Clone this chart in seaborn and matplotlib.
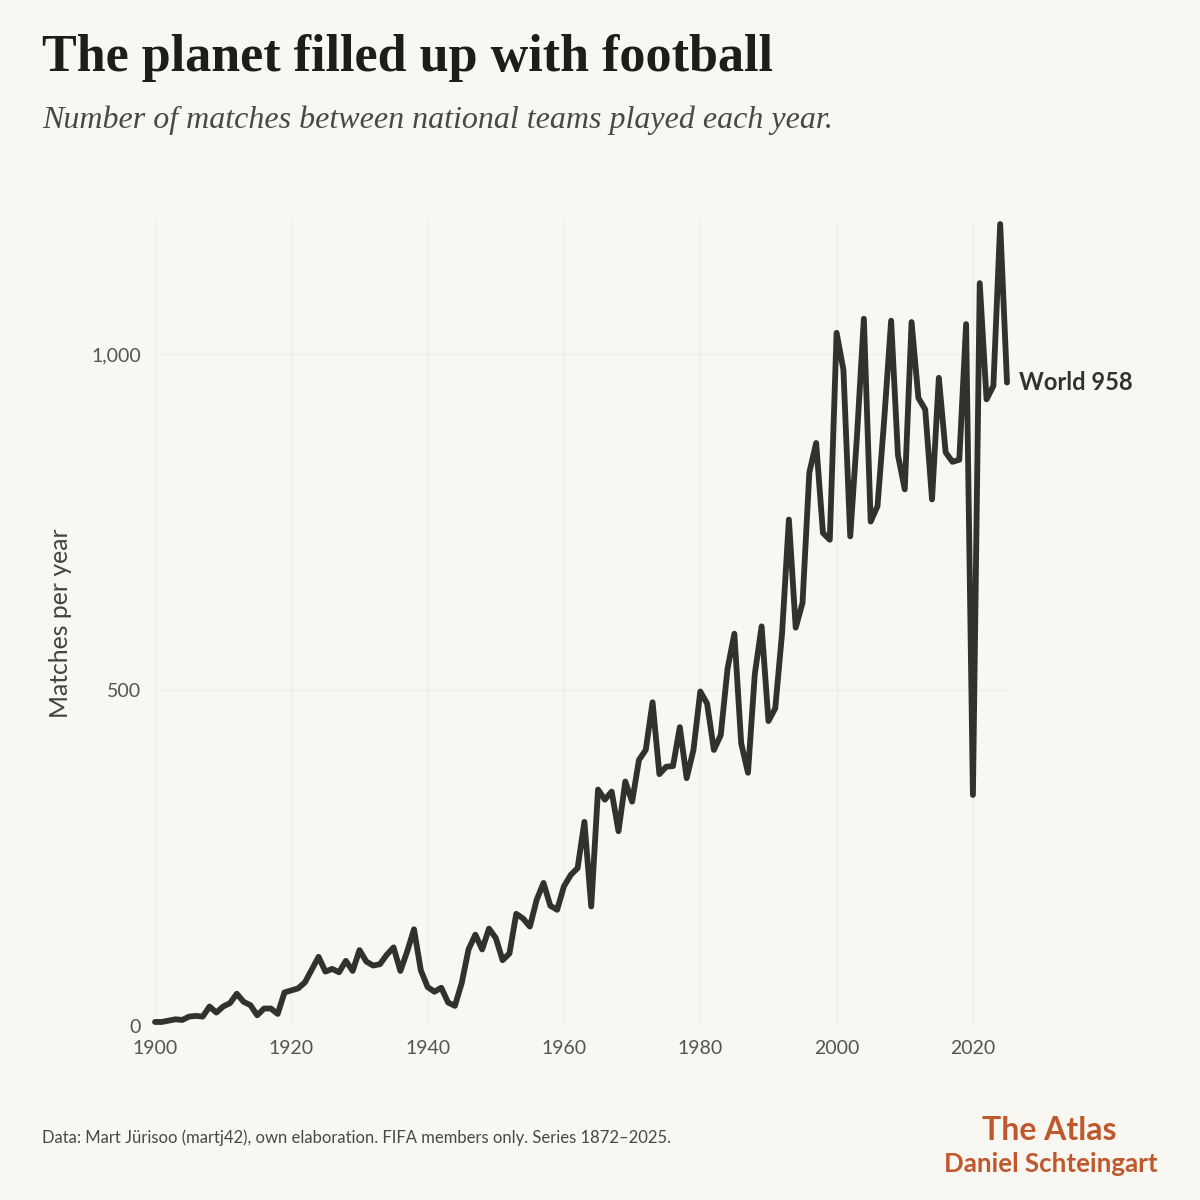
import pandas as pd
import seaborn as sns
import matplotlib.pyplot as plt

# Matches between national teams per year
years = list(range(1900, 2026))
matches = [
    6, 6, 8, 10, 9, 14, 15, 14, 29, 20,          # 1900s
    29, 34, 48, 36, 31, 16, 26, 26, 18, 50,      # 1910s
    53, 56, 65, 84, 103, 81, 85, 80, 97, 82,     # 1920s
    113, 96, 90, 92, 106, 117, 82, 111, 144, 83,  # 1930s
    58, 51, 57, 35, 30, 64, 114, 136, 114, 145,  # 1940s
    131, 98, 108, 167, 160, 148, 188, 213, 179, 173,  # 1950s
    208, 225, 235, 304, 178, 352, 337, 349, 290, 364,  # 1960s
    334, 396, 411, 482, 375, 386, 387, 445, 369, 411,  # 1970s
    498, 480, 411, 433, 532, 584, 421, 377, 524, 595,  # 1980s
    454, 473, 585, 754, 593, 630, 824, 868, 734, 724,  # 1990s
    1032, 977, 729, 880, 1053, 751, 774, 905, 1050, 850,  # 2000s
    799, 1048, 935, 918, 784, 965, 854, 840, 843, 1045,  # 2010s
    344, 1106, 933, 953, 1194, 958,              # 2020s
]
y_ticks = [0, 500, 1000]
y_tick_labels = ["0", "500", "1,000"]
x_ticks = [1900, 1920, 1940, 1960, 1980, 2000, 2020]

BG = "#F9F7F2"
INK = "#33312B"
BRAND = "#C0582E"

data = pd.DataFrame({"year": years, "matches": matches})

sns.set_theme(style="white")
plt.rcParams["font.family"] = ["Lato", "DejaVu Sans"]

fig = plt.figure(figsize=(12, 12), dpi=100)
fig.patch.set_facecolor(BG)
ax = fig.add_axes([155 / 1200, 1 - 1026 / 1200, 852 / 1200, 806 / 1200])
ax.set_facecolor(BG)

sns.lineplot(x="year", y="matches", data=data, ax=ax, color=INK,
             linewidth=4.2, solid_capstyle="round", solid_joinstyle="round",
             clip_on=False, zorder=3)

ax.set_xlim(1900, 2025)
ax.set_ylim(0, 1200)
ax.set_xticks(x_ticks)
ax.set_xticklabels([str(x) for x in x_ticks])
ax.set_yticks(y_ticks)
ax.set_yticklabels(y_tick_labels)
ax.tick_params(axis="both", length=0, labelsize=14, labelcolor="#555350")
ax.tick_params(axis="y", pad=10)
ax.tick_params(axis="x", pad=10)
ax.grid(True, color="#F0EDE6", linewidth=1)
for s in ax.spines.values():
    s.set_visible(False)
ax.set_xlabel("")
ax.set_ylabel("Matches per year", fontsize=17.8, color="#444240",
              labelpad=14)

# end label
ax.annotate(f"World {matches[-1]}", xy=(years[-1], matches[-1]),
            xytext=(9, 0), textcoords="offset points", va="center",
            ha="left", fontsize=17, fontweight="bold", color=INK,
            annotation_clip=False)

fig.text(42 / 1200, 1 - 58 / 1200, "The planet filled up with football",
         fontsize=37.5, fontweight="bold", color="#1E1D1B",
         family=["Liberation Serif", "DejaVu Serif"], va="center")
fig.text(42 / 1200, 1 - 120 / 1200,
         "Number of matches between national teams played each year.",
         fontsize=23, style="italic", color="#4A4844",
         family=["Liberation Serif", "DejaVu Serif"], va="center")

fig.text(42 / 1200, 1 - 1138 / 1200,
         "Data: Mart Jürisoo (martj42), own elaboration. FIFA members only. "
         "Series 1872–2025.", fontsize=12, color="#4A4844", va="center")
fig.text(1117 / 1200, 1 - 1130 / 1200, "The Atlas", fontsize=23,
         fontweight="bold", color=BRAND, ha="right", va="center")
fig.text(1158 / 1200, 1 - 1164 / 1200, "Daniel Schteingart", fontsize=18.6,
         fontweight="bold", color=BRAND, ha="right", va="center")

fig.savefig("out.png", dpi=100, facecolor=BG)
plt.close(fig)
